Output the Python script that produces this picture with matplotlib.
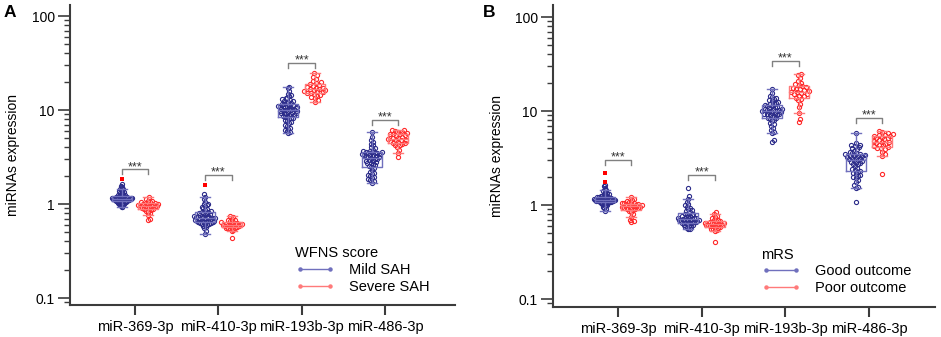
import numpy as np
import matplotlib
matplotlib.use("Agg")
import matplotlib.pyplot as plt
from matplotlib import cbook
from matplotlib.lines import Line2D
from matplotlib.ticker import FixedLocator, NullFormatter

plt.rcParams['font.family'] = ['Liberation Sans', 'DejaVu Sans']

categories = ["miR-369-3p", "miR-410-3p", "miR-193b-3p", "miR-486-3p"]

# ---------------- Panel A (WFNS score) ----------------
a_mild_369 = [0.92, 0.94, 0.96, 0.97, 0.98, 0.99, 1.0, 1.01, 1.02, 1.03, 1.04, 1.05, 1.05, 1.06, 1.06,
              1.07, 1.07, 1.08, 1.08, 1.09, 1.09, 1.10, 1.10, 1.10, 1.11, 1.11, 1.12, 1.12, 1.12, 1.13,
              1.13, 1.13, 1.14, 1.14, 1.14, 1.15, 1.15, 1.16, 1.16, 1.17, 1.17, 1.18, 1.18, 1.19, 1.20,
              1.20, 1.21, 1.22, 1.23, 1.24, 1.25, 1.26, 1.28, 1.30, 1.32, 1.34, 1.36, 1.38, 1.40, 1.43,
              1.46, 1.50, 1.55, 1.62]
a_severe_369 = [0.68, 0.70, 0.76, 0.80, 0.83, 0.85, 0.87, 0.88, 0.89, 0.90, 0.91, 0.92, 0.93, 0.94, 0.95,
                0.95, 0.96, 0.97, 0.98, 0.99, 1.0, 1.01, 1.02, 1.03, 1.04, 1.05, 1.07, 1.09, 1.12, 1.18]
a_mild_410 = [0.48, 0.52, 0.55, 0.57, 0.58, 0.60, 0.61, 0.62, 0.62, 0.63, 0.63, 0.64, 0.64, 0.65, 0.65,
              0.66, 0.66, 0.67, 0.67, 0.68, 0.68, 0.69, 0.69, 0.70, 0.70, 0.71, 0.71, 0.72, 0.72, 0.73,
              0.74, 0.74, 0.75, 0.76, 0.77, 0.78, 0.79, 0.80, 0.81, 0.82, 0.83, 0.84, 0.86, 0.88, 0.90,
              0.92, 0.95, 0.97, 1.0, 1.0, 1.05, 1.12, 1.18, 1.27]
a_severe_410 = [0.44, 0.52, 0.53, 0.54, 0.55, 0.55, 0.56, 0.57, 0.57, 0.58, 0.58, 0.59, 0.59, 0.60, 0.60,
                0.61, 0.61, 0.62, 0.62, 0.63, 0.63, 0.64, 0.65, 0.66, 0.67, 0.68, 0.70, 0.72, 0.75]
a_mild_193b = [5.7, 5.8, 6.0, 6.1, 6.3, 6.5, 6.8, 7.0, 7.2, 7.4, 7.6, 7.8, 8.0, 8.2, 8.3, 8.4, 8.5, 8.6,
               8.8, 8.9, 9.0, 9.1, 9.2, 9.3, 9.4, 9.5, 9.6, 9.7, 9.8, 9.9, 10.0, 10.1, 10.2, 10.3, 10.4,
               10.5, 10.6, 10.7, 10.8, 10.9, 11.0, 11.1, 11.2, 11.4, 11.5, 11.7, 11.9, 12.0, 12.2, 12.4,
               12.6, 12.8, 13.0, 13.3, 13.6, 14.0, 14.5, 15.0, 16.0, 17.0, 17.8]
a_severe_193b = [12.1, 12.8, 13.3, 13.8, 14.2, 14.6, 14.9, 15.1, 15.3, 15.5, 15.8, 16.0, 16.2, 16.4, 16.6,
                 16.8, 17.0, 17.3, 17.6, 18.0, 18.4, 18.8, 19.2, 19.8, 20.5, 21.5, 22.5, 23.5, 24.9]
a_mild_486 = [1.69, 1.75, 1.8, 1.85, 1.9, 1.95, 2.0, 2.05, 2.1, 2.15, 2.2, 2.3, 2.4, 2.5, 2.55, 2.6, 2.65,
              2.7, 2.75, 2.8, 2.85, 2.9, 2.95, 3.0, 3.05, 3.1, 3.15, 3.2, 3.2, 3.25, 3.3, 3.3, 3.35, 3.4,
              3.4, 3.45, 3.5, 3.5, 3.55, 3.6, 3.6, 3.65, 3.7, 3.8, 3.9, 4.0, 4.2, 4.4, 4.6, 4.8, 5.2, 5.9]
a_severe_486 = [3.18, 3.5, 3.8, 4.0, 4.2, 4.3, 4.4, 4.45, 4.5, 4.6, 4.7, 4.75, 4.8, 4.85, 4.9, 5.0, 5.1,
                5.2, 5.3, 5.4, 5.5, 5.55, 5.6, 5.7, 5.8, 5.9, 6.0, 6.1, 6.2]
a_flag_369 = [1.84]
a_flag_410 = [1.6]

# ---------------- Panel B (mRS) ----------------
b_good_369 = [0.87, 0.90, 0.93, 0.95, 0.97, 0.99, 1.0, 1.02, 1.03, 1.04, 1.05, 1.06, 1.07, 1.07, 1.08,
              1.08, 1.09, 1.09, 1.10, 1.10, 1.11, 1.11, 1.12, 1.12, 1.13, 1.13, 1.14, 1.14, 1.15, 1.15,
              1.16, 1.16, 1.17, 1.18, 1.18, 1.19, 1.20, 1.21, 1.22, 1.23, 1.24, 1.25, 1.26, 1.28, 1.30,
              1.32, 1.35, 1.38, 1.42, 1.46, 1.52, 1.58, 1.63]
b_poor_369 = [0.66, 0.68, 0.70, 0.75, 0.80, 0.84, 0.87, 0.89, 0.90, 0.91, 0.92, 0.93, 0.94, 0.95, 0.96,
              0.97, 0.98, 0.99, 1.0, 1.01, 1.02, 1.03, 1.04, 1.05, 1.06, 1.08, 1.10, 1.13, 1.17, 1.23]
b_good_410 = [0.55, 0.56, 0.57, 0.58, 0.59, 0.60, 0.61, 0.62, 0.63, 0.64, 0.64, 0.65, 0.65, 0.66, 0.66,
              0.67, 0.67, 0.68, 0.68, 0.69, 0.69, 0.70, 0.70, 0.71, 0.71, 0.72, 0.72, 0.73, 0.74, 0.75,
              0.76, 0.77, 0.78, 0.79, 0.80, 0.81, 0.82, 0.84, 0.86, 0.88, 0.90, 0.93, 0.96, 0.99, 1.02,
              1.08, 1.15, 1.25, 1.50]
b_poor_410 = [0.40, 0.53, 0.54, 0.55, 0.56, 0.57, 0.58, 0.59, 0.60, 0.60, 0.61, 0.61, 0.62, 0.62, 0.63,
              0.63, 0.64, 0.64, 0.65, 0.66, 0.67, 0.68, 0.69, 0.70, 0.72, 0.74, 0.77, 0.80, 0.85]
b_good_193b = [4.7, 4.9, 5.8, 6.0, 6.3, 6.6, 6.9, 7.2, 7.5, 7.8, 8.0, 8.2, 8.4, 8.5, 8.7, 8.8, 9.0, 9.1,
               9.2, 9.3, 9.4, 9.5, 9.6, 9.7, 9.8, 9.9, 10.0, 10.1, 10.2, 10.3, 10.4, 10.5, 10.6, 10.8,
               10.9, 11.0, 11.2, 11.4, 11.6, 11.8, 12.0, 12.2, 12.4, 12.7, 13.0, 13.3, 13.6, 14.0, 14.5,
               15.5, 17.1]
b_poor_193b = [7.6, 8.3, 9.6, 11.0, 12.0, 13.0, 13.5, 13.9, 14.3, 14.6, 15.0, 15.3, 15.6, 15.9, 16.1,
               16.4, 16.7, 17.0, 17.3, 17.7, 18.0, 18.3, 18.7, 19.2, 20.0, 21.0, 22.5, 24.0, 24.7]
b_good_486 = [1.08, 1.5, 1.55, 1.62, 1.75, 1.85, 1.95, 2.0, 2.05, 2.1, 2.15, 2.2, 2.25, 2.3, 2.35, 2.4,
              2.5, 2.6, 2.7, 2.75, 2.8, 2.85, 2.9, 2.95, 3.0, 3.0, 3.05, 3.1, 3.15, 3.2, 3.2, 3.25, 3.3,
              3.3, 3.35, 3.4, 3.4, 3.45, 3.5, 3.55, 3.6, 3.7, 3.8, 3.9, 4.0, 4.1, 4.2, 4.3, 4.4, 4.6, 5.9]
b_poor_486 = [2.14, 3.3, 3.5, 3.7, 3.9, 4.0, 4.05, 4.1, 4.2, 4.3, 4.4, 4.5, 4.6, 4.65, 4.7, 4.8, 4.9,
              5.0, 5.1, 5.2, 5.3, 5.4, 5.45, 5.5, 5.6, 5.7, 5.8, 6.0, 6.13]
b_flag_369 = [1.75, 2.2]

stars = "***"

BLUE_PT = '#2c2c8a'
BLUE_BOX = '#7070bd'
RED_PT = '#ff2a2a'
RED_BOX = '#ff7a7a'
FLAG = '#ff0000'
SPINE = '#3c3c3c'

fig = plt.figure(figsize=(9.41, 3.37), dpi=100)

panels = [
    dict(pos=[0.0744, 0.095, 0.409, 0.890], ylim=(0.0843, 131), xlim=(-0.78, 3.84),
         blue=[a_mild_369, a_mild_410, a_mild_193b, a_mild_486],
         red=[a_severe_369, a_severe_410, a_severe_193b, a_severe_486],
         flags=[a_flag_369, a_flag_410, [], []],
         title="WFNS score", labels=["Mild SAH", "Severe SAH"], letter="A",
         legpos=(0.585, 0.197), brk=1.27, letterx=0.004),
    dict(pos=[0.5877, 0.089, 0.406, 0.896], ylim=(0.0822, 134), xlim=(-0.777, 3.79),
         blue=[b_good_369, b_good_410, b_good_193b, b_good_486],
         red=[b_poor_369, b_poor_410, b_poor_193b, b_poor_486],
         flags=[b_flag_369, [], [], []],
         title="mRS", labels=["Good outcome", "Poor outcome"], letter="B",
         legpos=(0.545, 0.197), brk=1.38, letterx=0.513),
]

OFF = 0.16
BW = 0.24
D = 3.7      # marker spacing in pixels
HALFW = 10.5  # max half-width of a swarm in pixels


def swarm(ax, xc, vals, d=D, halfw=HALFW):
    vals = np.asarray(vals, float)
    pts = ax.transData.transform(np.column_stack([np.full(len(vals), xc), vals]))
    ys = pts[:, 1]
    ppu = (ax.transData.transform((1, 1)) - ax.transData.transform((0, 1)))[0]
    order = np.argsort(ys)
    placed = []
    xs = np.zeros(len(vals))
    for i in order:
        y = ys[i]
        near = [(px, py) for px, py in placed if abs(py - y) < d]
        cands = [0.0]
        for px, py in near:
            dx = np.sqrt(max(d * d - (py - y) ** 2, 0))
            cands += [px + dx, px - dx]
        cands = sorted(cands, key=abs)
        chosen = cands[-1]
        for c in cands:
            if all((c - px) ** 2 + (y - py) ** 2 >= d * d - 1e-6 for px, py in near):
                chosen = c
                break
        placed.append((chosen, y))
        xs[i] = chosen
    m = np.abs(xs).max()
    if m > halfw:
        xs = xs * halfw / m
    return xc + xs / ppu, vals


def logstats(vals):
    st = cbook.boxplot_stats(np.log10(np.asarray(vals, float)), whis=1.5)[0]
    for k in ['med', 'q1', 'q3', 'whislo', 'whishi', 'mean']:
        st[k] = 10 ** st[k]
    st['fliers'] = []
    return st


for p in panels:
    ax = fig.add_axes(p['pos'])
    ax.set_yscale('log')
    ax.set_ylim(*p['ylim'])
    ax.set_xlim(*p['xlim'])
    for gi in range(len(categories)):
        for vals, off, pc, bc in [(p['blue'][gi], -OFF, BLUE_PT, BLUE_BOX),
                                  (p['red'][gi], OFF, RED_PT, RED_BOX)]:
            xc = gi + off
            xs, ys = swarm(ax, xc, vals)
            ax.plot(xs, ys, 'o', ms=3.0, mfc='none', mec=pc, mew=0.8, zorder=2)
            st = logstats(vals)
            ax.bxp([st], positions=[xc], widths=BW, showfliers=False, capwidths=BW * 0.5,
                   boxprops=dict(color=bc, lw=1.0), whiskerprops=dict(color=bc, lw=1.0),
                   capprops=dict(color=bc, lw=1.0), medianprops=dict(color=bc, lw=1.0),
                   manage_ticks=False, zorder=3)
        fl = p['flags'][gi]
        if fl:
            ax.plot([gi - OFF] * len(fl), fl, 's', ms=3.0, color=FLAG, mew=0, zorder=4)
        top = max(max(p['blue'][gi]), max(p['red'][gi]), max(fl) if fl else 0) * p['brk']
        ax.plot([gi - OFF, gi - OFF, gi + OFF, gi + OFF], [top * 0.885, top, top, top * 0.885],
                color='#808080', lw=1.0, zorder=3)
        ax.text(gi, top * 0.985, stars, ha='center', va='baseline', fontsize=9, color='#333333')

    ax.set_xticks(range(len(categories)))
    ax.set_xticklabels(categories, fontsize=10.5)
    ax.set_yticks([0.1, 1, 10, 100])
    ax.set_yticklabels(["0.1", "1", "10", "100"], fontsize=10)
    minors = [m * 10.0 ** e for e in range(-2, 3) for m in range(2, 10)]
    minors = [v for v in minors if p['ylim'][0] <= v <= p['ylim'][1]]
    ax.yaxis.set_minor_locator(FixedLocator(minors))
    ax.yaxis.set_minor_formatter(NullFormatter())
    ax.tick_params(axis='y', which='major', length=9, width=1.2, color=SPINE, pad=2)
    ax.tick_params(axis='y', which='minor', length=4, width=1.0, color=SPINE)
    ax.tick_params(axis='x', which='major', length=7, width=1.5, color=SPINE, pad=4)
    for s in ['top', 'right']:
        ax.spines[s].set_visible(False)
    for s in ['left', 'bottom']:
        ax.spines[s].set_color(SPINE)
        ax.spines[s].set_linewidth(1.5)
    ax.set_ylabel("miRNAs expression", fontsize=10, labelpad=8)

    handles = [Line2D([], [], color=BLUE_BOX, lw=1.0, marker='o', ms=2.2, mfc=BLUE_BOX, mec=BLUE_BOX),
               Line2D([], [], color=RED_BOX, lw=1.0, marker='o', ms=2.2, mfc=RED_BOX, mec=RED_BOX)]
    leg = ax.legend(handles, p['labels'], title=p['title'], loc='upper left',
                    bbox_to_anchor=p['legpos'], frameon=False, fontsize=10.5, title_fontsize=10.5,
                    numpoints=2, handlelength=2.7, handletextpad=1.0, labelspacing=0.2,
                    borderpad=0, borderaxespad=0, alignment='left')
    fig.text(p['letterx'], 0.985, p['letter'], fontsize=12.5, fontweight='bold', va='top', ha='left')

fig.savefig("out.png", dpi=100)
